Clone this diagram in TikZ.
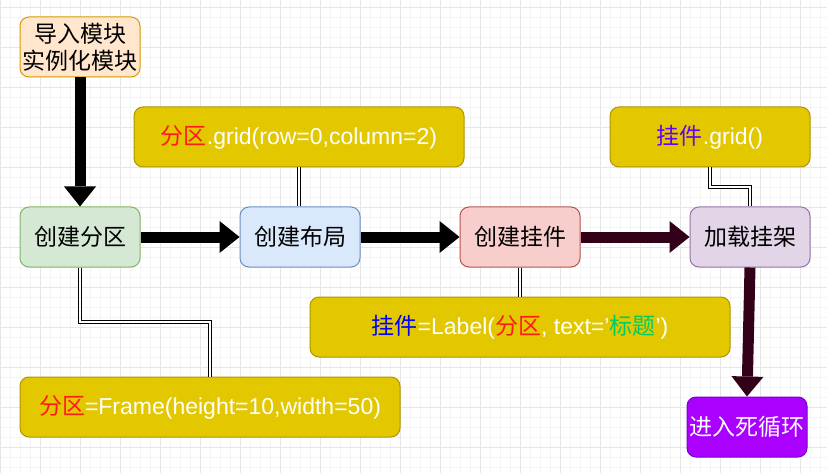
\documentclass[tikz,border=0pt]{standalone}
\usepackage{fontspec}
\usepackage{tikz}
\usetikzlibrary{arrows.meta,calc}
\setmainfont{Liberation Sans}
\newfontfamily\cjk{Noto Sans CJK SC}
\definecolor{minorgray}{RGB}{244, 244, 244}
\definecolor{majorgray}{RGB}{230, 230, 230}
\definecolor{peachfill}{HTML}{FFE6CC}
\definecolor{peachline}{HTML}{D79B00}
\definecolor{greenfill}{HTML}{D5E8D4}
\definecolor{greenline}{HTML}{82B366}
\definecolor{bluefill}{HTML}{DAE8FC}
\definecolor{blueline}{HTML}{6C8EBF}
\definecolor{redfill}{HTML}{F8CECC}
\definecolor{redline}{HTML}{B85450}
\definecolor{lilacfill}{HTML}{E1D5E7}
\definecolor{lilacline}{HTML}{9673A6}
\definecolor{violetfill}{HTML}{AA00FF}
\definecolor{violetline}{HTML}{7700CC}
\definecolor{codefill}{HTML}{E3C800}
\definecolor{codeline}{HTML}{B09500}
\definecolor{maroon}{HTML}{33001A}
\definecolor{partred}{HTML}{FF1A1A}
\definecolor{widgetviolet}{HTML}{6600FF}
\definecolor{widgetblue}{HTML}{0000FF}
\definecolor{titlegreen}{HTML}{00CC66}

\tikzset{
    stepbox/.style={draw, line width=1pt, rounded corners=9pt, minimum width=120pt, minimum height=60pt,
        inner sep=0pt, align=center, font=\fontsize{23}{27}\selectfont\cjk},
    codebox/.style={draw=codeline, fill=codefill, line width=1pt, rounded corners=9pt, minimum height=60pt,
        inner sep=0pt, text=white, font=\fontsize{23}{27}\selectfont},
    flexarrow/.style={line width=11pt, -{Triangle[width=32pt,length=20pt,line width=0pt]}},
    dblline/.style={double=white, draw=black, line width=0.8pt, double distance=2.2pt}
}

\begin{document}
\begin{tikzpicture}[x=1pt, y=-1pt]
    \useasboundingbox (0,0) rectangle (827,473);
    \fill[white] (0,0) rectangle (827,473);

    % background grid
    \foreach \x in {0,10,...,820} \draw[minorgray, line width=0.8pt] (\x,0) -- (\x,473);
    \foreach \y in {7,17,...,467} \draw[minorgray, line width=0.8pt] (0,\y) -- (827,\y);
    \foreach \x in {0,40,...,800} \draw[majorgray, line width=0.8pt] (\x,0) -- (\x,473);
    \foreach \y in {7,47,...,447} \draw[majorgray, line width=0.8pt] (0,\y) -- (827,\y);

    % steps
    \node[stepbox, draw=peachline, fill=peachfill] (import) at (80,47) {导入模块\\实例化模块};
    \node[stepbox, draw=greenline, fill=greenfill] (part) at (80,237) {创建分区};
    \node[stepbox, draw=blueline, fill=bluefill] (layout) at (300,237) {创建布局};
    \node[stepbox, draw=redline, fill=redfill] (widget) at (520,237) {创建挂件};
    \node[stepbox, draw=lilacline, fill=lilacfill] (mount) at (750,237) {加载挂架};
    \node[stepbox, draw=violetline, fill=violetfill, text=white] (mainloop) at (747,427) {进入死循环};

    % code notes
    \node[codebox, minimum width=330pt] (partgrid) at (299,137)
        {{\cjk\color{partred}分区}.grid(row=0,column=2)};
    \node[codebox, minimum width=200pt] (widgetgrid) at (710,137)
        {{\cjk\color{widgetviolet}挂件}.grid()};
    \node[codebox, minimum width=420pt] (labelcode) at (520,327)
        {{\cjk\color{widgetblue}挂件}=Label({\cjk\color{partred}分区}, text='{\cjk\color{titlegreen}标题}')};
    \node[codebox, minimum width=380pt] (framecode) at (210,407)
        {{\cjk\color{partred}分区}=Frame(height=10,width=50)};

    % arrows
    \draw[flexarrow, black] (import) -- (part);
    \draw[flexarrow, black] (part) -- (layout);
    \draw[flexarrow, black] (layout) -- (widget);
    \draw[flexarrow, maroon] (widget) -- (mount);
    \draw[flexarrow, maroon] (mount.south) -- (mainloop.north);

    % links to the notes
    \draw[dblline] (part.south) |- ($(part.south)!.5!(framecode.north)$) -| (framecode.north);
    \draw[dblline] (partgrid.south) -- (partgrid.south |- layout.north);
    \draw[dblline] (widget.south) -- (labelcode.north);
    \draw[dblline] (widgetgrid.south) |- ($(widgetgrid.south)!.5!(mount.north)$) -| (mount.north);
\end{tikzpicture}
\end{document}
